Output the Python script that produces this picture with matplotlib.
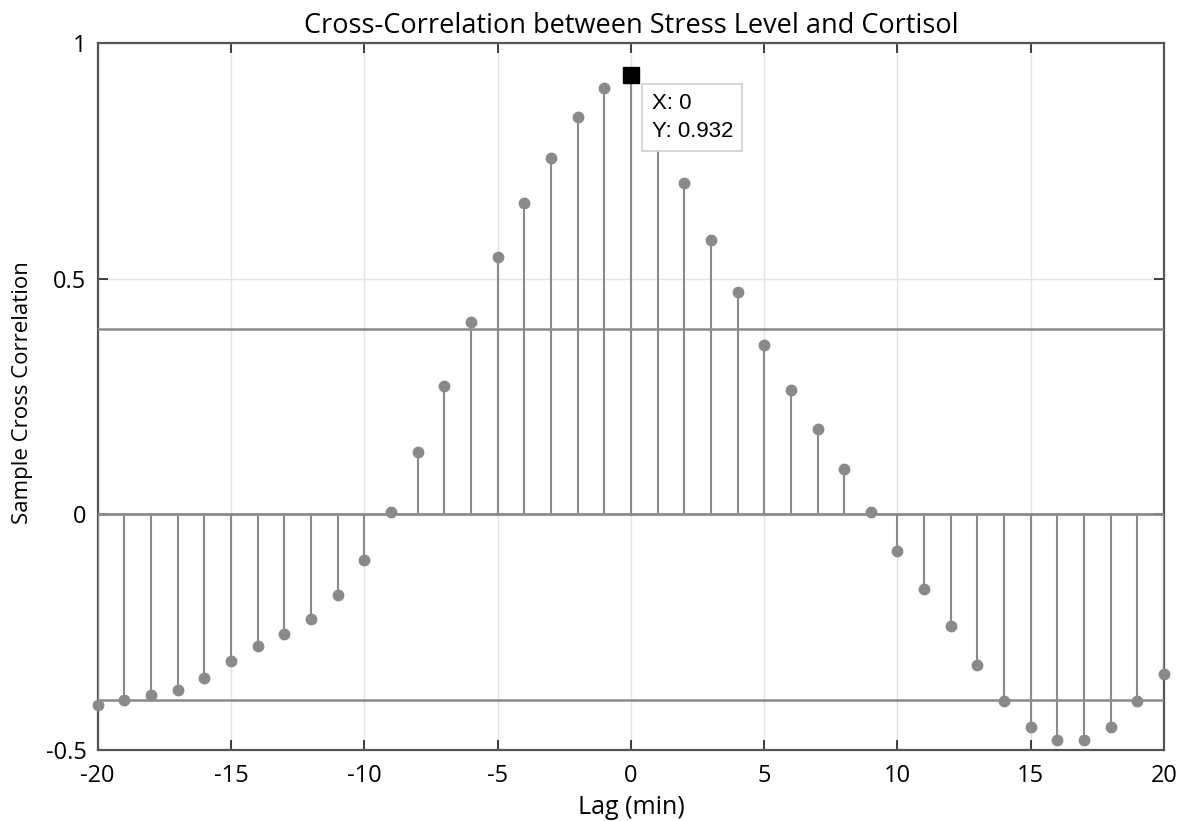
import matplotlib.pyplot as plt
import numpy as np

# lags and sample cross correlation
lags = list(range(-20, 21))
xcf = [-0.404, -0.395, -0.384, -0.372, -0.348, -0.311, -0.280, -0.253, -0.222, -0.171,
       -0.096, 0.006, 0.133, 0.272, 0.408, 0.545, 0.661, 0.757, 0.842, 0.904,
       0.932, 0.83, 0.702, 0.583, 0.471, 0.359, 0.263, 0.181, 0.096, 0.004,
       -0.078, -0.158, -0.236, -0.320, -0.396, -0.451, -0.478, -0.478, -0.451, -0.396,
       -0.338]
bound = 0.393          # confidence bounds
tip_lag = 0
xticks = [-20, -15, -10, -5, 0, 5, 10, 15, 20]
yticks = [-0.5, 0, 0.5, 1]
ytick_labels = ['-0.5', '0', '0.5', '1']

plt.rcParams['font.family'] = ['Open Sans', 'DejaVu Sans']

fig = plt.figure(figsize=(11.83, 8.21), dpi=100)
ax = fig.add_axes([0.0826, 0.0865, 0.9014, 0.8611])

stem_col = '#8a8a8a'
ax.vlines(lags, 0, xcf, color=stem_col, lw=1.5, zorder=3)
ax.plot(lags, xcf, 'o', color=stem_col, ms=7.5, mec=stem_col, zorder=4, clip_on=False)
ax.axhline(0, color='#8a8a8a', lw=2, zorder=3)
ax.axhline(bound, color='#8a8a8a', lw=1.8, zorder=3)
ax.axhline(-bound, color='#8a8a8a', lw=1.8, zorder=3)

# data tip
i0 = lags.index(tip_lag)
ax.plot(lags[i0], xcf[i0], 's', color='black', ms=11, zorder=6, clip_on=False)
ax.annotate('X: 0\nY: 0.932', xy=(lags[i0], xcf[i0]), xytext=(15, -13),
            textcoords='offset points', ha='left', va='top', fontsize=16,
            family=['Liberation Sans'], linespacing=1.4, zorder=7,
            bbox=dict(boxstyle='square,pad=0.42', fc='white', ec='#d0d0d0', lw=1.2))

ax.set_xlim(-20, 20)
ax.set_ylim(-0.5, 1)
ax.set_xticks(xticks)
ax.set_xticklabels([str(t) for t in xticks])
ax.set_yticks(yticks)
ax.set_yticklabels(ytick_labels)
ax.grid(True, color='#e3e3e3', lw=1, zorder=0)
ax.set_axisbelow(True)
ax.tick_params(direction='in', length=7, width=1.3, top=True, right=True,
               labelsize=17, color='#303030', pad=8)
ax.tick_params(axis='x', pad=10)
for s in ax.spines.values():
    s.set_color('#555555')
    s.set_linewidth(1.6)

ax.set_title('Cross-Correlation between Stress Level and Cortisol', fontsize=19.5, pad=7)
ax.set_xlabel('Lag (min)', fontsize=18, labelpad=5)
ax.set_ylabel('Sample Cross Correlation', fontsize=16, labelpad=10)
ax.yaxis.set_label_coords(-0.061, 0.506)

fig.savefig('out.png', dpi=100)
